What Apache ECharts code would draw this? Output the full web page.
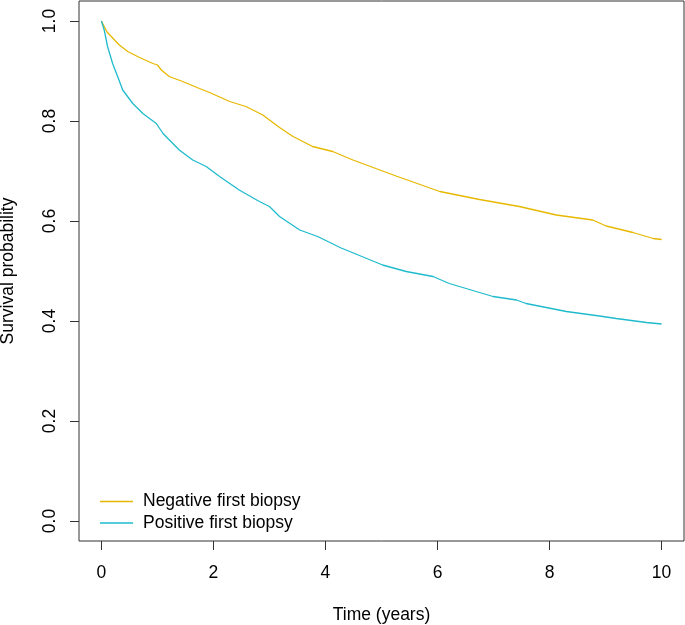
<!DOCTYPE html>
<html>
<head>
<meta charset="utf-8">
<script src="https://cdn.jsdelivr.net/npm/echarts@6/dist/echarts.min.js"></script>
<style>
  html, body { margin: 0; padding: 0; background: #fff; }
  #chart { width: 685px; height: 625px; }
</style>
</head>
<body>
<div id="chart"></div>
<script>
// survival curves (time in years, survival probability)
var negTime = [0, 0.1, 0.32, 0.47, 0.68, 0.92, 1.0, 1.07, 1.21, 1.45, 1.75, 1.93, 2.29, 2.58, 2.88, 3.18, 3.42, 3.77, 4.13, 4.49, 5.26, 6.04, 6.75, 7.46, 8.12, 8.77, 9.01, 9.49, 9.85, 10.0];
var negSurv = [1.0, 0.978, 0.952, 0.939, 0.927, 0.915, 0.912, 0.902, 0.889, 0.879, 0.865, 0.857, 0.839, 0.829, 0.812, 0.787, 0.769, 0.749, 0.739, 0.722, 0.690, 0.659, 0.643, 0.629, 0.612, 0.602, 0.590, 0.577, 0.565, 0.563];

var posTime = [0, 0.05, 0.11, 0.2, 0.29, 0.38, 0.56, 0.74, 0.98, 1.1, 1.24, 1.39, 1.63, 1.87, 2.11, 2.46, 2.82, 3.0, 3.18, 3.54, 3.86, 4.28, 5.02, 5.44, 5.92, 6.21, 6.99, 7.41, 7.58, 8.3, 8.89, 9.19, 9.73, 10.0];
var posSurv = [1.0, 0.982, 0.949, 0.915, 0.889, 0.862, 0.835, 0.815, 0.795, 0.775, 0.759, 0.742, 0.722, 0.709, 0.689, 0.662, 0.639, 0.629, 0.609, 0.582, 0.569, 0.546, 0.512, 0.499, 0.489, 0.475, 0.449, 0.442, 0.435, 0.419, 0.410, 0.405, 0.397, 0.394];

var xTicks = [0, 2, 4, 6, 8, 10];
var yTicks = [0, 0.2, 0.4, 0.6, 0.8, 1.0];
var groupNames = ['Negative first biopsy', 'Positive first biopsy'];

function pairs(xs, ys) {
    var out = [];
    for (var i = 0; i < xs.length; i++) out.push([xs[i], ys[i]]);
    return out;
}

var font = 'Liberation Sans, Arial, sans-serif';
var fs = 17.5;
var chart = echarts.init(document.getElementById('chart'));

chart.setOption({
    animation: false,
    grid: {
        left: 79, right: 1, top: 1, bottom: 84,
        containLabel: false,
        outerBoundsMode: 'none',
        show: true, borderColor: '#333', borderWidth: 1
    },
    legend: {
        orient: 'vertical',
        left: 95,
        top: 487,
        itemWidth: 33,
        itemHeight: 1.5,
        itemGap: 2.5,
        icon: 'rect',
        data: groupNames,
        textStyle: { fontFamily: font, fontSize: fs, color: '#000', padding: [0, 0, 0, 5], lineHeight: 19 }
    },
    xAxis: {
        type: 'value',
        min: -0.4, max: 10.4,
        name: 'Time (years)',
        nameLocation: 'middle',
        nameGap: 65,
        nameTextStyle: { fontFamily: font, fontSize: fs, color: '#000' },
        axisLine: { show: false, onZero: false },
        splitLine: { show: false },
        axisTick: { show: true, inside: false, length: 9, lineStyle: { color: '#333' }, customValues: xTicks },
        axisLabel: { fontFamily: font, fontSize: fs, color: '#000', margin: 23, customValues: xTicks }
    },
    yAxis: {
        type: 'value',
        min: -0.04, max: 1.04,
        name: 'Survival probability',
        nameLocation: 'middle',
        nameGap: 62,
        nameTextStyle: { fontFamily: font, fontSize: fs, color: '#000' },
        axisLine: { show: false, onZero: false },
        splitLine: { show: false },
        axisTick: { show: true, inside: false, length: 9, lineStyle: { color: '#333' }, customValues: yTicks },
        axisLabel: {
            fontFamily: font, fontSize: fs, color: '#000', margin: 20, rotate: 90,
            customValues: yTicks,
            formatter: function (v) { return v.toFixed(1); }
        }
    },
    series: [
        {
            name: groupNames[0],
            type: 'line',
            showSymbol: false,
            symbol: 'none',
            lineStyle: { color: '#E7B800', width: 1.3 },
            itemStyle: { color: '#E7B800' },
            data: pairs(negTime, negSurv)
        },
        {
            name: groupNames[1],
            type: 'line',
            showSymbol: false,
            symbol: 'none',
            lineStyle: { color: '#1FBBCC', width: 1.3 },
            itemStyle: { color: '#1FBBCC' },
            data: pairs(posTime, posSurv)
        }
    ]
});
</script>
</body>
</html>
